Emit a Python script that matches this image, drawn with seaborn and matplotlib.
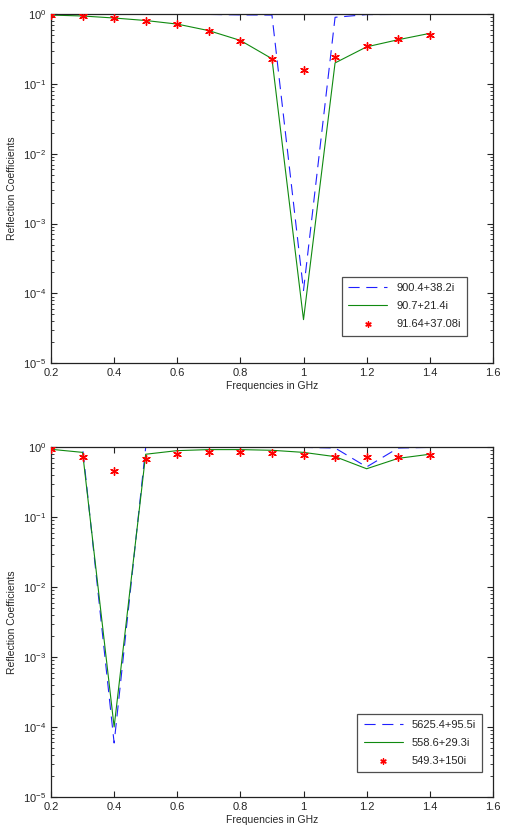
import numpy as np
import pandas as pd
import matplotlib
matplotlib.use("Agg")
import matplotlib.pyplot as plt
import seaborn as sns
from matplotlib.ticker import LogLocator, FixedLocator

# -------------------------------
# Data
# -------------------------------
freqs = [0.2, 0.3, 0.4, 0.5, 0.6, 0.7, 0.8, 0.9, 1.0, 1.1, 1.2, 1.3, 1.4]

# top panel
top_blue = [0.995, 0.995, 0.995, 0.995, 0.995, 0.99, 0.975, 0.97, 1.1e-4, 0.90, 0.985, 0.99, 0.99]
top_green = [0.97, 0.94, 0.88, 0.81, 0.72, 0.58, 0.42, 0.23, 4.2e-5, 0.20, 0.34, 0.43, 0.53]
top_red = [0.97, 0.935, 0.877, 0.81, 0.72, 0.58, 0.41, 0.23, 0.16, 0.245, 0.355, 0.44, 0.51]
top_labels = ["900.4+38.2i", "90.7+21.4i", "91.64+37.08i"]

# bottom panel
bot_blue = [0.995, 0.99, 5.9e-5, 0.99, 0.995, 0.995, 0.995, 0.995, 0.99, 0.97, 0.52, 0.97, 0.99]
bot_green = [0.93, 0.84, 1.0e-4, 0.79, 0.89, 0.92, 0.92, 0.90, 0.84, 0.73, 0.49, 0.69, 0.79]
bot_red = [0.93, 0.73, 0.45, 0.67, 0.79, 0.84, 0.84, 0.82, 0.77, 0.73, 0.71, 0.73, 0.76]
bot_labels = ["5625.4+95.5i", "558.6+29.3i", "549.3+150i"]

x_ticks = [0.2, 0.4, 0.6, 0.8, 1.0, 1.2, 1.4, 1.6]
x_ticklabels = ["0.2", "0.4", "0.6", "0.8", "1", "1.2", "1.4", "1.6"]

# -------------------------------
# Style
# -------------------------------
sns.set_style("ticks")
plt.rcParams["font.family"] = ["Liberation Sans", "DejaVu Sans"]
plt.rcParams["font.size"] = 8
plt.rcParams["mathtext.default"] = "regular"

fig = plt.figure(figsize=(5.05, 8.31), dpi=100)
ax1 = fig.add_axes([0.101, 0.563, 0.875, 0.42])
ax2 = fig.add_axes([0.101, 0.041, 0.875, 0.421])


def draw(ax, blue, green, red, labels, legend_anchor):
    df = pd.DataFrame({"f": freqs, "blue": blue, "green": green, "red": red})
    sns.lineplot(data=df, x="f", y="blue", ax=ax, color="#2020ff",
                 linestyle=(0, (10, 6)), linewidth=0.8, label=labels[0])
    sns.lineplot(data=df, x="f", y="green", ax=ax, color="#108a10",
                 linewidth=0.8, label=labels[1])
    sns.scatterplot(data=df, x="f", y="red", ax=ax, color="red",
                    marker=(6, 2, 0), s=30, linewidth=1.0, label=labels[2],
                    zorder=3)
    ax.set_yscale("log")
    ax.set_ylim(1e-5, 1)
    ax.set_xlim(0.2, 1.6)
    ax.xaxis.set_major_locator(FixedLocator(x_ticks))
    ax.set_xticklabels(x_ticklabels)
    ax.yaxis.set_major_locator(LogLocator(base=10, numticks=10))
    ax.yaxis.set_minor_locator(LogLocator(base=10, subs=np.arange(2, 10), numticks=10))
    ax.tick_params(which="both", direction="in", top=True, right=True,
                   labelsize=8, color="#222222")
    ax.tick_params(which="major", length=4, width=0.8)
    ax.tick_params(which="minor", length=2.5, width=0.6)
    for s in ax.spines.values():
        s.set_linewidth(0.9)
        s.set_color("#222222")
    ax.set_xlabel("Frequencies in GHz", fontsize=7.5, labelpad=2)
    ax.set_ylabel("Reflection Coefficients", fontsize=7.5, labelpad=4)
    leg = ax.legend(loc="lower right", bbox_to_anchor=legend_anchor,
                    fontsize=8, frameon=True, fancybox=False,
                    edgecolor="#222222", handlelength=3.5, borderpad=0.6,
                    labelspacing=0.7, markerscale=0.7)
    leg.get_frame().set_linewidth(0.9)


draw(ax1, top_blue, top_green, top_red, top_labels, (0.955, 0.063))
draw(ax2, bot_blue, bot_green, bot_red, bot_labels, (0.989, 0.054))

fig.savefig("out.png", dpi=100)
